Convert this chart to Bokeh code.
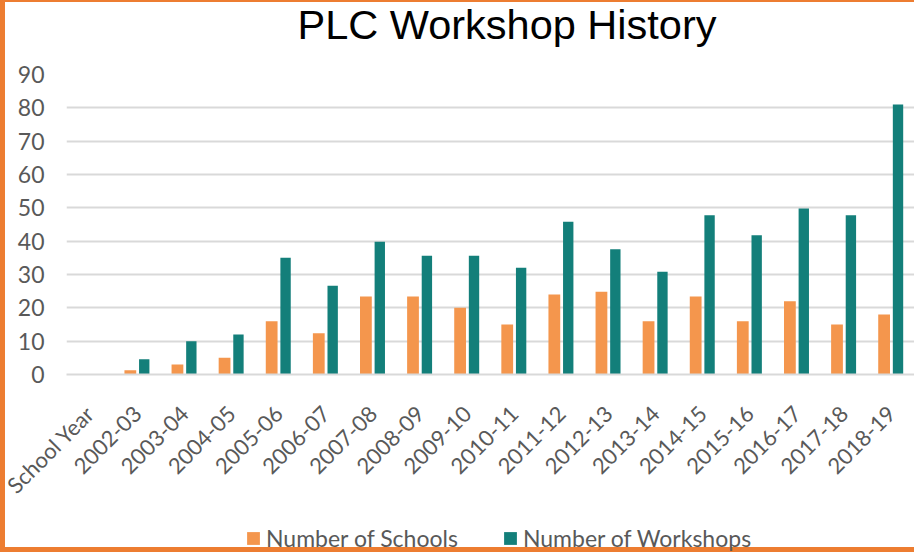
from bokeh.plotting import figure
from bokeh.layouts import column
from bokeh.models import (FactorRange, Range1d, FixedTicker, Legend, LegendItem,
                          ColumnDataSource, Title)
from bokeh.transform import dodge
from bokeh.embed import file_html
from bokeh.resources import INLINE

years = ["School Year", "2002-03", "2003-04", "2004-05", "2005-06", "2006-07", "2007-08",
         "2008-09", "2009-10", "2010-11", "2011-12", "2012-13", "2013-14", "2014-15",
         "2015-16", "2016-17", "2017-18", "2018-19"]
schools = [0, 1.3, 3, 5, 16, 12.4, 23.4, 23.4, 20, 15, 24, 24.8, 16, 23.4, 16, 22, 15, 18]
workshops = [0, 4.6, 10, 12, 35, 26.6, 39.8, 35.6, 35.6, 32, 45.8, 37.6, 30.8, 47.8, 41.8, 49.8, 47.8, 81]
y_ticks = [0, 10, 20, 30, 40, 50, 60, 70, 80, 90]
series_names = ["Number of Schools", "Number of Workshops"]

ORANGE = "#F4964D"
TEAL = "#137F7A"
BORDER = "#ED7D31"
GRID = "#D9D9D9"
TXT = "#595959"

W = 914

src = ColumnDataSource(dict(year=years, schools=schools, workshops=workshops))
xr = FactorRange(*years, range_padding=0)

# ---- main chart ----
p = figure(x_range=xr, y_range=Range1d(0, 90),
           width=W, height=522, output_backend="svg", toolbar_location=None,
           min_border_left=66, min_border_right=0, min_border_top=77, min_border_bottom=145)
p.border_fill_color = None
p.background_fill_color = "white"
p.outline_line_color = None

p.vbar(x=dodge("year", -0.145, range=xr), top="schools", width=0.25, source=src,
       fill_color=ORANGE, line_color=None)
p.vbar(x=dodge("year", 0.15, range=xr), top="workshops", width=0.22, source=src,
       fill_color=TEAL, line_color=None)

# spacer between frame and title
p.add_layout(Title(text=" ", text_font_size="1px", standoff=24), "above")

p.title.text = "PLC Workshop History"
p.title.text_font = "Liberation Sans"
p.title.text_font_size = "41.5px"
p.title.text_font_style = "normal"
p.title.text_color = "black"
p.title.text_line_height = 1.0
p.title.align = "left"
p.title.offset = 231
p.title.standoff = 0

p.xgrid.grid_line_color = None
p.ygrid.grid_line_color = GRID
p.ygrid.grid_line_width = 2
p.ygrid.ticker = FixedTicker(ticks=y_ticks)

p.yaxis.ticker = FixedTicker(ticks=y_ticks)
p.yaxis.axis_line_color = None
p.yaxis.major_tick_line_color = None
p.yaxis.minor_tick_line_color = None
p.yaxis.major_tick_out = 0
p.yaxis.major_label_standoff = 22
p.yaxis.major_label_text_font = "Lato"
p.yaxis.major_label_text_font_size = "23px"
p.yaxis.major_label_text_color = TXT

p.xaxis.axis_line_color = GRID
p.xaxis.axis_line_width = 2
p.xaxis.major_tick_line_color = None
p.xaxis.major_tick_out = 0
p.xaxis.major_label_orientation = 0.785
p.xaxis.major_label_standoff = 35
p.xaxis.major_label_text_font = "Lato"
p.xaxis.major_label_text_font_size = "22px"
p.xaxis.major_label_text_color = TXT

# ---- legend strip (same series; bars lie outside this strip's view) ----
q = figure(width=W, height=33, output_backend="svg", toolbar_location=None,
           x_range=xr, y_range=Range1d(200, 201),
           x_axis_location=None, y_axis_location=None,
           min_border_left=66, min_border_right=0, min_border_top=0, min_border_bottom=0)
q.border_fill_color = None
q.background_fill_color = None
q.outline_line_color = None
q.grid.visible = False
k1 = q.vbar(x=dodge("year", -0.145, range=xr), top="schools", width=0.25, source=src,
            fill_color=ORANGE, line_color=None)
k2 = q.vbar(x=dodge("year", 0.15, range=xr), top="workshops", width=0.22, source=src,
            fill_color=TEAL, line_color=None)

legend = Legend(items=[LegendItem(label=series_names[0], renderers=[k1], index=1),
                       LegendItem(label=series_names[1], renderers=[k2], index=1)],
                orientation="horizontal", location=(179, 0), padding=0, margin=0,
                spacing=44, glyph_width=16, glyph_height=16, label_standoff=5,
                label_text_font="Lato", label_text_font_size="23px", label_text_color=TXT,
                border_line_color=None, background_fill_alpha=0)
q.add_layout(legend, "center")

page = column(p, q, spacing=0,
              styles={"margin-top": "-3px",
                      "box-shadow": f"inset 5px 5px 0 0 {BORDER}, inset 0 -5px 0 0 {BORDER}"})

open("out.html", "w").write(file_html(page, INLINE))
